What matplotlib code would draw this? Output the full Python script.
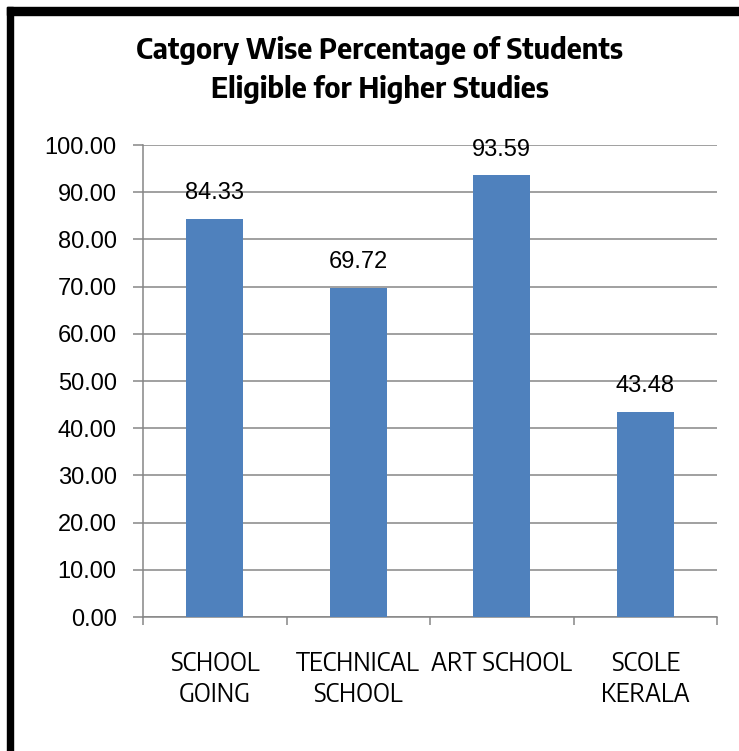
"""
Category-wise percentage of students eligible for higher studies (bar chart).
"""

import matplotlib.pyplot as plt
from matplotlib import font_manager as fm
from matplotlib.patches import Rectangle
from matplotlib.ticker import MultipleLocator, FuncFormatter

# ==== DATA ====
CATEGORIES = ["SCHOOL\nGOING", "TECHNICAL\nSCHOOL", "ART SCHOOL", "SCOLE\nKERALA"]
PERCENTAGES = [84.33, 69.72, 93.59, 43.48]
TITLE = "Catgory Wise Percentage of Students\nEligible for Higher Studies"

# ==== STYLE ====
W, H, DPI = 739, 751, 100
BAR_COLOR = "#4F81BD"
GRID_COLOR = "#868686"
REGULAR = ["Liberation Sans", "DejaVu Sans"]


def narrow_font(size, weight=400):
    """Slightly condensed sans, picked by file so the right face is used."""
    for name in ("Encode Sans Semi Condensed", "IBM Plex Sans Condensed", "PT Sans Narrow"):
        cands = [f for f in fm.fontManager.ttflist
                 if f.name == name and str(f.weight) == str(weight)]
        if cands:
            return fm.FontProperties(fname=cands[0].fname, size=size)
    return fm.FontProperties(family="DejaVu Sans", stretch="condensed",
                             size=size, weight=weight)


fig = plt.figure(figsize=(W / DPI, H / DPI), dpi=DPI)
ax = fig.add_axes([143 / W, 1 - 617 / H, (717 - 143) / W, (617 - 145) / H])

x = range(len(CATEGORIES))
ax.bar(x, PERCENTAGES, width=0.40, color=BAR_COLOR, zorder=3)

# data labels
for xi, v in zip(x, PERCENTAGES):
    ax.annotate(f"{v:.2f}", (xi, v), xytext=(0, 10.5), textcoords="offset points",
                ha="center", va="bottom", fontsize=17, family=REGULAR, color="black")

ax.set_xlim(-0.5, len(CATEGORIES) - 0.5)
ax.set_ylim(0, 100)
ax.yaxis.set_major_locator(MultipleLocator(10))
ax.yaxis.set_major_formatter(FuncFormatter(lambda v, _: f"{v:.2f}"))

# x ticks at category boundaries, labels at centers
ax.set_xticks([i - 0.5 for i in range(len(CATEGORIES) + 1)])
ax.set_xticklabels([])
ax.set_xticks(list(x), minor=True)
ax.set_xticklabels(CATEGORIES, minor=True, fontproperties=narrow_font(18.2), linespacing=1.22)
ax.tick_params(axis="x", which="minor", length=0, pad=24)
ax.tick_params(axis="x", which="major", length=6, width=1.1, color=GRID_COLOR)
ax.tick_params(axis="y", length=7, width=1.1, color=GRID_COLOR, pad=12)
for lab in ax.get_yticklabels():
    lab.set_fontsize(17)
    lab.set_family(REGULAR)

ax.grid(True, axis="y", color=GRID_COLOR, linewidth=1.1, zorder=0)
for side in ("top", "right"):
    ax.spines[side].set_visible(False)
for side in ("left", "bottom"):
    ax.spines[side].set_color(GRID_COLOR)
    ax.spines[side].set_linewidth(1.1)

fig.text(380 / W, 1 - 70 / H, TITLE, ha="center", va="center",
         fontproperties=narrow_font(21, 700), linespacing=1.45)

# thick black frame (left and top)
fig.patches.append(Rectangle((7 / W, 0), 6 / W, 1 - 7 / H, transform=fig.transFigure,
                             color="black", zorder=10))
fig.patches.append(Rectangle((7 / W, 1 - 15 / H), 1 - 7 / W, 8 / H, transform=fig.transFigure,
                             color="black", zorder=10))

fig.savefig("out.png", dpi=DPI)
